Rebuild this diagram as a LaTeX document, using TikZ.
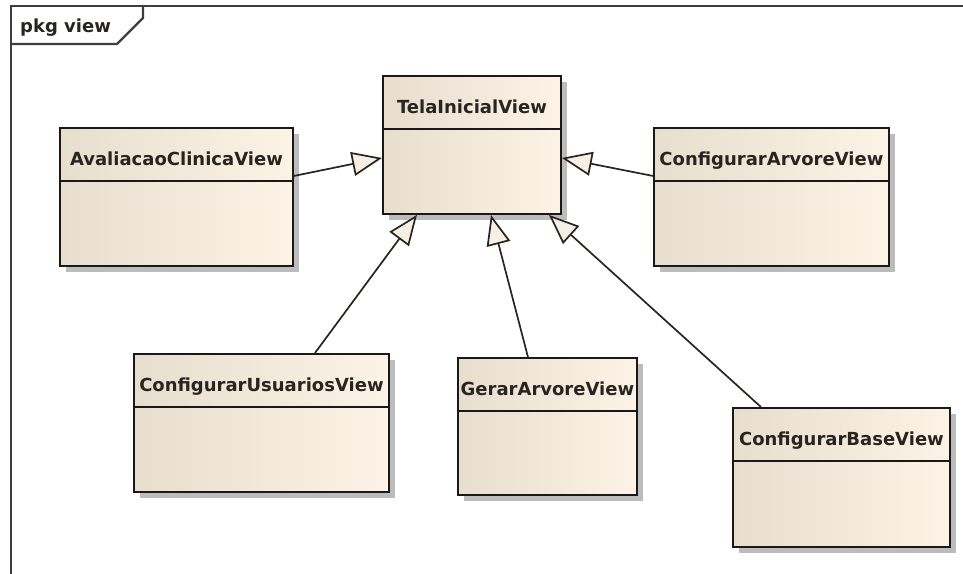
\documentclass[tikz,border=0pt]{standalone}
\usepackage{fontspec}
\setmainfont{DejaVu Sans}
\usetikzlibrary{arrows.meta,shadows,calc}

\definecolor{framegray}{RGB}{62,62,62}
\definecolor{classleft}{RGB}{232,222,206}
\definecolor{classright}{RGB}{252,243,230}
\definecolor{shadowgray}{RGB}{188,188,188}
\definecolor{inkdark}{RGB}{40,36,32}
\definecolor{tipfill}{RGB}{246,240,228}

\begin{document}
\begin{tikzpicture}[x=1pt,y=-1pt,
  classbox/.style={draw=black!90, line width=1.9pt, inner sep=0pt, anchor=north west,
    left color=classleft, right color=classright,
    general shadow={fill=shadowgray, shadow xshift=6pt, shadow yshift=-6pt}},
  classname/.style={anchor=base, inner sep=0pt, text=inkdark,
    font=\fontsize{18}{21}\selectfont\bfseries},
  divider/.style={draw=black!90, line width=1.7pt},
  generalization/.style={draw=inkdark, line width=1.7pt,
    -{Triangle[length=30pt, width=24pt, fill=tipfill, line join=miter]}},
  pkgframe/.style={draw=framegray, line width=2.2pt}
]
\useasboundingbox (0,0) rectangle (963,573);

% package frame with its name tab
\draw[pkgframe] (11,580) -- (11,6) -- (975,6);
\draw[pkgframe] (143,6) -- (143,18) -- (117,44) -- (11,44);
\node[classname, anchor=base west] (pkglabel) at (20,32) {pkg view};

% classes: top-left corner, width, height
\node[classbox, minimum width=178pt, minimum height=138pt] (tela)  at (382,75)  {};
\node[classbox, minimum width=233pt, minimum height=138pt] (ava)   at (59,127)  {};
\node[classbox, minimum width=235pt, minimum height=138pt] (arv)   at (653,127) {};
\node[classbox, minimum width=255pt, minimum height=138pt] (usu)   at (133,353) {};
\node[classbox, minimum width=179pt, minimum height=137pt] (gerar) at (457,357) {};
\node[classbox, minimum width=217pt, minimum height=139pt] (base)  at (732,407) {};

% name compartments
\foreach \c/\t in {tela/TelaInicialView, ava/AvaliacaoClinicaView,
                   arv/ConfigurarArvoreView, usu/ConfigurarUsuariosView,
                   gerar/GerarArvoreView, base/ConfigurarBaseView}{
  \draw[divider] ($(\c.north west)+(0,54)$) -- ($(\c.north east)+(0,54)$);
  \node[classname] (\c-name) at ($(\c.north)+(0,38)$) {\t};
}

% generalizations towards TelaInicialView
\draw[generalization] ([yshift=21pt]ava.east)   -- ([yshift=-13pt]tela.west);
\draw[generalization] ([yshift=21pt]arv.west)   -- ([yshift=-13pt]tela.east);
\draw[generalization] ([xshift=53.5pt]usu.north) -- ([xshift=-55pt]tela.south);
\draw[generalization] ([xshift=-19.5pt]gerar.north) -- ([xshift=19pt]tela.south);
\draw[generalization] ([xshift=-80.5pt]base.north) -- ([xshift=77pt]tela.south);
\end{tikzpicture}
\end{document}
